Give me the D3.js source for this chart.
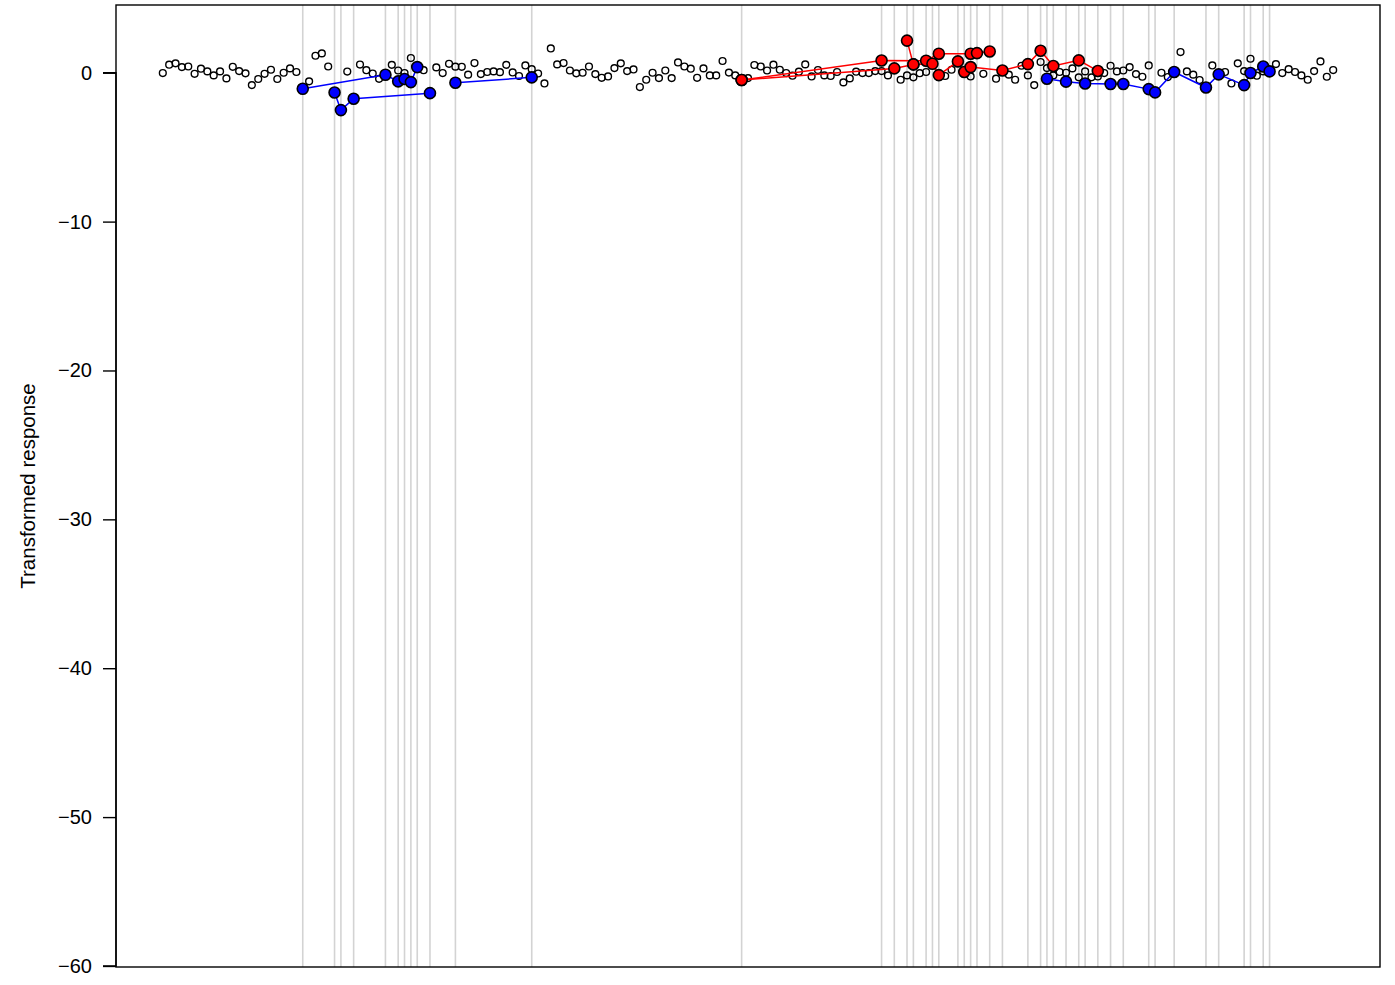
<!DOCTYPE html>
<html>
<head>
<meta charset="utf-8">
<script src="https://cdn.jsdelivr.net/npm/d3@7"></script>
<style>
  html, body { margin: 0; padding: 0; background: #ffffff; }
  svg { display: block; }
  text { font-family: "Liberation Sans", Arial, Helvetica, sans-serif; }
</style>
</head>
<body>
<svg id="chart" width="1395" height="985"></svg>
<script>
// ---------------- DATA ----------------
const nObs = 185;
// open circles (index 1..185); null = hidden under a coloured point
const responseValues = [
  -0.02, 0.54, 0.63, 0.38, 0.42, -0.07, 0.27, 0.09, -0.18, 0.09,
  -0.38, 0.40, 0.11, -0.04, -0.83, -0.42, -0.07, 0.20, -0.42, 0.00,
  0.29, 0.05, null, -0.58, 1.14, 1.30, 0.42, null, null, 0.08,
  null, 0.55, 0.17, -0.05, -0.41, null, 0.53, 0.15, -0.02, 0.99,
  null, 0.17, null, 0.36, -0.02, 0.60, 0.41, 0.40, -0.13, 0.65,
  -0.09, 0.05, 0.09, 0.04, 0.53, 0.02, -0.22, 0.49, 0.24, -0.05,
  -0.72, 1.63, 0.56, 0.65, 0.15, -0.04, 0.00, 0.42, -0.09, -0.34,
  -0.25, 0.31, 0.63, 0.11, 0.22, -0.96, -0.47, 0.00, -0.36, 0.15,
  -0.36, 0.69, 0.42, 0.27, -0.34, 0.29, -0.18, -0.18, 0.79, 0.01,
  -0.18, null, -0.36, 0.52, 0.42, 0.15, 0.54, 0.20, -0.02, -0.20,
  0.07, 0.56, -0.25, 0.18, -0.18, -0.22, 0.05, -0.65, -0.38, 0.07,
  -0.02, -0.02, 0.11, 0.11, -0.18, null, -0.47, -0.18, -0.31, -0.03,
  0.05, null, null, -0.22, 0.20, null, null, -0.25, null, -0.07,
  null, -0.40, null, -0.13, -0.47, 0.47, -0.18, -0.83, 0.72, 0.31,
  -0.18, 0.05, 0.00, 0.29, -0.31, 0.09, -0.31, -0.25, -0.02, 0.47,
  0.09, 0.15, 0.38, -0.09, -0.27, 0.49, null, 0.00, -0.29, null,
  1.39, 0.09, -0.13, -0.49, null, 0.49, null, 0.05, -0.72, 0.63,
  0.11, 0.94, -0.20, 0.09, null, 0.58, -0.02, 0.24, 0.05, -0.18,
  -0.47, 0.11, 0.76, -0.27, 0.18
];

// negative (blue) anomalies: index, value, connecting group
const blueIndex = [23, 36, 38, 39, 40, 41,   28, 29, 31, 43,   47, 59,
                   140, 143, 146, 150, 152, 156, 157, 160, 165, 167, 171, 172, 174, 175];
const blueValue = [-1.08, -0.14, -0.58, -0.42, -0.63, 0.38,   -1.33, -2.51, -1.75, -1.37,   -0.67, -0.31,
                   -0.40, -0.60, -0.72, -0.76, -0.76, -1.10, -1.32, 0.05, -0.99, -0.11, -0.83, -0.02, 0.42, 0.09];
const blueGroup = [1, 1, 1, 1, 1, 1,   2, 2, 2, 2,   3, 3,
                   4, 4, 4, 4, 4, 4, 4, 4, 4, 4, 4, 4, 4, 4];

// positive (red) anomalies: index, value, connecting group
const redIndex = [92, 114, 121, 123, 128, 129, 131,
                  92, 116, 119, 122, 123, 126, 127, 128, 133, 137, 139, 141, 145, 148,
                  118, 119];
const redValue = [-0.49, 0.82, 0.81, 1.28, 1.28, 1.32, 1.43,
                  -0.49, 0.29, 0.56, 0.60, -0.16, 0.76, 0.05, 0.38, 0.15, 0.58, 1.48, 0.45, 0.83, 0.12,
                  2.16, 0.56];
const redGroup = [1, 1, 1, 1, 1, 1, 1,
                  2, 2, 2, 2, 2, 2, 2, 2, 2, 2, 2, 2, 2, 2,
                  3, 3];

const yTicks = [0, -10, -20, -30, -40, -50, -60];
const yLabel = "Transformed response";

// ---------------- LAYOUT ----------------
const svg = d3.select("#chart");
const plot = { left: 116, right: 1380, top: 5, bottom: 967 };
const pad = 0.04 * (nObs - 1);

const x = d3.scaleLinear()
  .domain([1 - pad, nObs + pad])
  .range([plot.left, plot.right]);
const y = d3.scaleLinear()
  .domain([-60.07, 4.55])
  .range([plot.bottom, plot.top]);

// vertical grey lines at anomaly locations
const anomalyIdx = Array.from(new Set(blueIndex.concat(redIndex))).sort((a, b) => a - b);
svg.append("g").selectAll("line").data(anomalyIdx).join("line")
  .attr("x1", d => x(d)).attr("x2", d => x(d))
  .attr("y1", plot.top).attr("y2", plot.bottom)
  .attr("stroke", "#d3d3d3").attr("stroke-width", 1.6);

// open circles
const openPts = responseValues.map((v, i) => ({ i: i + 1, v })).filter(d => d.v !== null);
svg.append("g").selectAll("circle").data(openPts).join("circle")
  .attr("cx", d => x(d.i)).attr("cy", d => y(d.v)).attr("r", 3.4)
  .attr("fill", "none").attr("stroke", "#000").attr("stroke-width", 1.4);

function drawSet(idx, val, grp, colour) {
  const pts = idx.map((d, k) => ({ i: d, v: val[k], g: grp[k] }));
  const groups = d3.groups(pts, d => d.g);
  const line = d3.line().x(d => x(d.i)).y(d => y(d.v));
  svg.append("g").selectAll("path").data(groups).join("path")
    .attr("d", d => line(d[1]))
    .attr("fill", "none").attr("stroke", colour).attr("stroke-width", 1.5);
  svg.append("g").selectAll("circle").data(pts).join("circle")
    .attr("cx", d => x(d.i)).attr("cy", d => y(d.v)).attr("r", 5.5)
    .attr("fill", colour).attr("stroke", "#000").attr("stroke-width", 1.6);
}
drawSet(redIndex, redValue, redGroup, "#ff0000");
drawSet(blueIndex, blueValue, blueGroup, "#0000ff");

// box
svg.append("rect")
  .attr("x", plot.left).attr("y", plot.top)
  .attr("width", plot.right - plot.left).attr("height", plot.bottom - plot.top)
  .attr("fill", "none").attr("stroke", "#000").attr("stroke-width", 1.4);

// y axis
const yAxis = d3.axisLeft(y).tickValues(yTicks).tickSize(13).tickPadding(11)
  .tickFormat(d => d < 0 ? "\u2212" + Math.abs(d) : String(d));
const ga = svg.append("g").attr("transform", `translate(${plot.left},0)`).call(yAxis);
ga.select(".domain").attr("d", `M-13,${y(0)}H0V${y(-60)}H-13`).attr("stroke", "#000").attr("stroke-width", 1.4);
ga.selectAll(".tick line").attr("stroke", "#000").attr("stroke-width", 1.4);
ga.selectAll(".tick text").attr("fill", "#000").style("font-size", "20px")
  .style("font-family", "'Liberation Sans', Arial, sans-serif");

// y label
svg.append("text")
  .attr("transform", `translate(35,${(plot.top + plot.bottom) / 2}) rotate(-90)`)
  .attr("text-anchor", "middle")
  .style("font-size", "20.5px")
  .text(yLabel);
</script>
</body>
</html>
